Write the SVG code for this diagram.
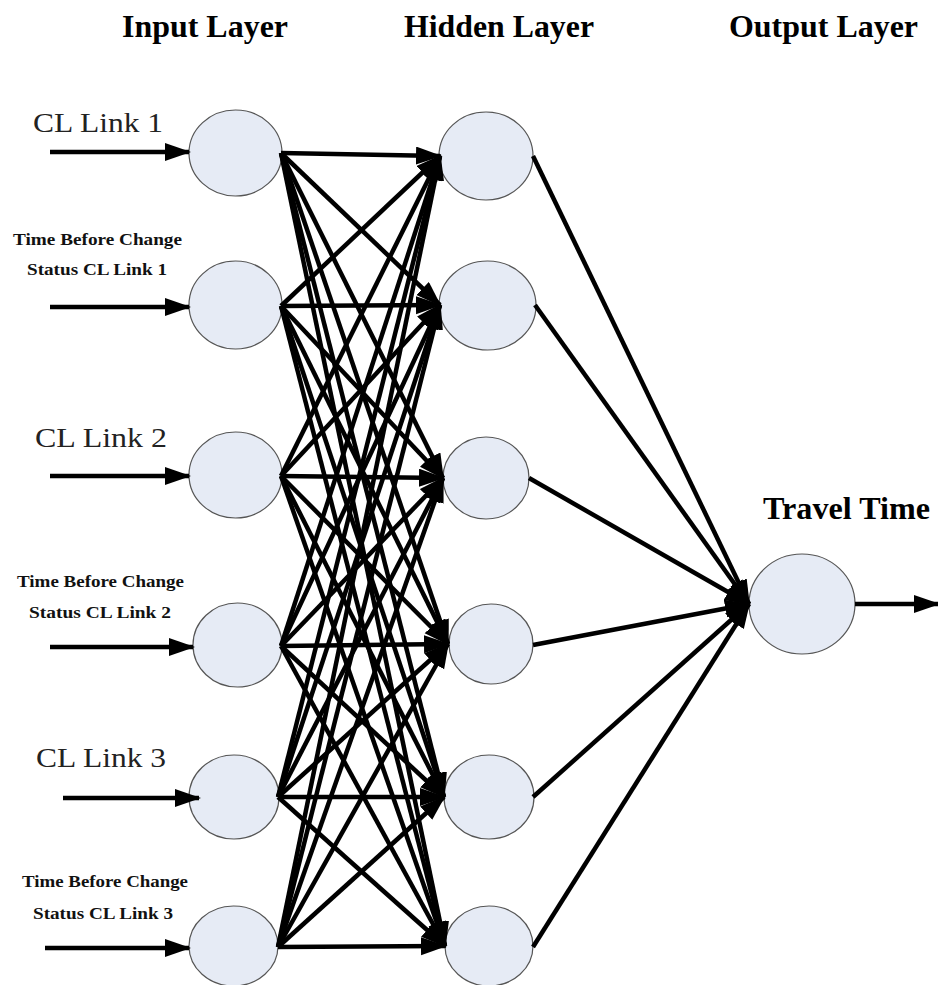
<svg xmlns="http://www.w3.org/2000/svg" width="938" height="985" viewBox="0 0 938 985">
  <defs>
    <marker id="ah" markerUnits="userSpaceOnUse" markerWidth="28" markerHeight="20" refX="24" refY="9" orient="auto" viewBox="0 0 28 20">
      <path d="M0,0 L26,9 L0,18 z" fill="#000"/>
    </marker>
  </defs>
  <style>
    .node { fill: #E6EBF5; stroke: #555; stroke-width: 1.2; }
    .edge { stroke: #000; stroke-width: 4.5; fill: none; marker-end: url(#ah); }
    .head { font-family: "Liberation Serif", "Times New Roman", serif; font-weight: bold; font-size: 31px; fill: #000; }
    .big { font-family: "Liberation Serif", "Times New Roman", serif; font-size: 28px; fill: #222; }
    .small { font-family: "Liberation Serif", "Times New Roman", serif; font-weight: bold; font-size: 16.5px; fill: #111; }
  </style>
  <rect width="938" height="985" fill="#fff"/>

  <g id="labels">
    <text class="head" x="122" y="37" textLength="166" lengthAdjust="spacingAndGlyphs">Input Layer</text>
    <text class="head" x="404" y="37" textLength="190" lengthAdjust="spacingAndGlyphs">Hidden Layer</text>
    <text class="head" x="729" y="37" textLength="189" lengthAdjust="spacingAndGlyphs">Output Layer</text>
    <text class="head" x="763" y="519" textLength="167" lengthAdjust="spacingAndGlyphs">Travel Time</text>
    <text class="big" x="33" y="132" textLength="130" lengthAdjust="spacingAndGlyphs">CL Link 1</text>
    <text class="small" x="13" y="245" textLength="169" lengthAdjust="spacingAndGlyphs">Time Before Change</text>
    <text class="small" x="27" y="275" textLength="140" lengthAdjust="spacingAndGlyphs">Status CL Link 1</text>
    <text class="big" x="35" y="447" textLength="132" lengthAdjust="spacingAndGlyphs">CL Link 2</text>
    <text class="small" x="17" y="587" textLength="167" lengthAdjust="spacingAndGlyphs">Time Before Change</text>
    <text class="small" x="29" y="618" textLength="142" lengthAdjust="spacingAndGlyphs">Status CL Link 2</text>
    <text class="big" x="36" y="767" textLength="130" lengthAdjust="spacingAndGlyphs">CL Link 3</text>
    <text class="small" x="22" y="887" textLength="166" lengthAdjust="spacingAndGlyphs">Time Before Change</text>
    <text class="small" x="33" y="919" textLength="140" lengthAdjust="spacingAndGlyphs">Status CL Link 3</text>
  </g>

  <g id="in1"><ellipse class="node" cx="235.5" cy="153" rx="46.5" ry="43"/></g>
  <g id="in2"><ellipse class="node" cx="235.5" cy="305" rx="46.5" ry="44"/></g>
  <g id="in3"><ellipse class="node" cx="235.5" cy="475" rx="46.5" ry="43"/></g>
  <g id="in4"><ellipse class="node" cx="237.5" cy="645" rx="44.5" ry="42"/></g>
  <g id="in5"><ellipse class="node" cx="234" cy="797" rx="45" ry="42"/></g>
  <g id="in6"><ellipse class="node" cx="233.5" cy="946" rx="44.5" ry="40"/></g>

  <g id="hid1"><ellipse class="node" cx="486" cy="156" rx="47" ry="44"/></g>
  <g id="hid2"><ellipse class="node" cx="487.5" cy="305.5" rx="48.5" ry="44.5"/></g>
  <g id="hid3"><ellipse class="node" cx="486" cy="478" rx="43" ry="41"/></g>
  <g id="hid4"><ellipse class="node" cx="491" cy="644" rx="42" ry="40"/></g>
  <g id="hid5"><ellipse class="node" cx="489" cy="797" rx="45" ry="42"/></g>
  <g id="hid6"><ellipse class="node" cx="489" cy="946" rx="44" ry="40"/></g>

  <g id="out1"><ellipse class="node" cx="802" cy="604" rx="53" ry="50"/></g>

  <g id="connectors">
    <line class="edge" x1="50" y1="152" x2="189" y2="152"/>
    <line class="edge" x1="50" y1="307" x2="189" y2="307"/>
    <line class="edge" x1="50" y1="476" x2="189" y2="476"/>
    <line class="edge" x1="50" y1="647" x2="193" y2="647"/>
    <line class="edge" x1="63" y1="798" x2="199" y2="798"/>
    <line class="edge" x1="45" y1="948" x2="189" y2="948"/>

    <line class="edge" x1="281" y1="153" x2="440" y2="156"/>
    <line class="edge" x1="281" y1="153" x2="440" y2="305"/>
    <line class="edge" x1="281" y1="153" x2="443" y2="478"/>
    <line class="edge" x1="281" y1="153" x2="448" y2="644"/>
    <line class="edge" x1="281" y1="153" x2="444" y2="797"/>
    <line class="edge" x1="281" y1="153" x2="445" y2="946"/>

    <line class="edge" x1="281" y1="306" x2="440" y2="156"/>
    <line class="edge" x1="281" y1="306" x2="440" y2="305"/>
    <line class="edge" x1="281" y1="306" x2="443" y2="478"/>
    <line class="edge" x1="281" y1="306" x2="448" y2="644"/>
    <line class="edge" x1="281" y1="306" x2="444" y2="797"/>
    <line class="edge" x1="281" y1="306" x2="445" y2="946"/>

    <line class="edge" x1="281" y1="476" x2="440" y2="156"/>
    <line class="edge" x1="281" y1="476" x2="440" y2="305"/>
    <line class="edge" x1="281" y1="476" x2="443" y2="478"/>
    <line class="edge" x1="281" y1="476" x2="448" y2="644"/>
    <line class="edge" x1="281" y1="476" x2="444" y2="797"/>
    <line class="edge" x1="281" y1="476" x2="445" y2="946"/>

    <line class="edge" x1="281" y1="646" x2="440" y2="156"/>
    <line class="edge" x1="281" y1="646" x2="440" y2="305"/>
    <line class="edge" x1="281" y1="646" x2="443" y2="478"/>
    <line class="edge" x1="281" y1="646" x2="448" y2="644"/>
    <line class="edge" x1="281" y1="646" x2="444" y2="797"/>
    <line class="edge" x1="281" y1="646" x2="445" y2="946"/>

    <line class="edge" x1="278" y1="797" x2="440" y2="156"/>
    <line class="edge" x1="278" y1="797" x2="440" y2="305"/>
    <line class="edge" x1="278" y1="797" x2="443" y2="478"/>
    <line class="edge" x1="278" y1="797" x2="448" y2="644"/>
    <line class="edge" x1="278" y1="797" x2="444" y2="797"/>
    <line class="edge" x1="278" y1="797" x2="445" y2="946"/>

    <line class="edge" x1="278" y1="947" x2="440" y2="156"/>
    <line class="edge" x1="278" y1="947" x2="440" y2="305"/>
    <line class="edge" x1="278" y1="947" x2="443" y2="478"/>
    <line class="edge" x1="278" y1="947" x2="448" y2="644"/>
    <line class="edge" x1="278" y1="947" x2="444" y2="797"/>
    <line class="edge" x1="278" y1="947" x2="445" y2="946"/>

    <line class="edge" x1="533" y1="156" x2="749" y2="604"/>
    <line class="edge" x1="535" y1="305" x2="749" y2="604"/>
    <line class="edge" x1="529" y1="478" x2="749" y2="604"/>
    <line class="edge" x1="533" y1="645" x2="749" y2="604"/>
    <line class="edge" x1="533" y1="797" x2="749" y2="604"/>
    <line class="edge" x1="533" y1="947" x2="749" y2="604"/>

    <line class="edge" x1="855" y1="604" x2="938" y2="604"/>
  </g>
</svg>
